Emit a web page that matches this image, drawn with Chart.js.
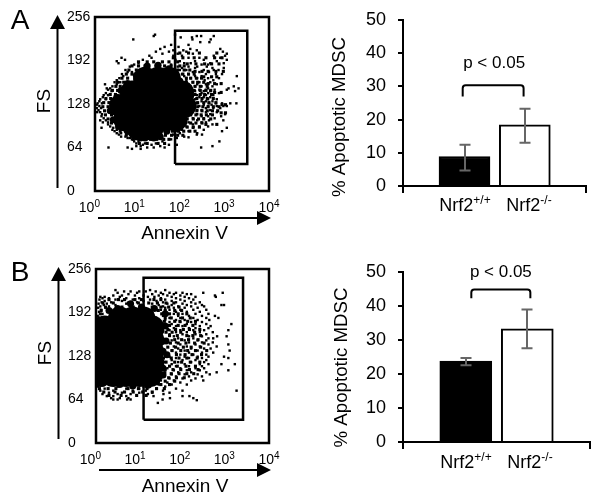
<!DOCTYPE html>
<html>
<head>
<meta charset="utf-8">
<style>
  html, body { margin: 0; background: #fff; }
  #page { position: relative; width: 602px; height: 504px; overflow: hidden; }
  canvas { position: absolute; }
</style>
<script src="https://cdn.jsdelivr.net/npm/chart.js@4"></script>
</head>
<body>
<div id="page">
  <canvas id="scatterA" width="300" height="252" style="left:0;top:0"></canvas>
  <canvas id="barA" width="292" height="252" style="left:310px;top:0"></canvas>
  <canvas id="scatterB" width="300" height="252" style="left:0;top:252px"></canvas>
  <canvas id="barB" width="292" height="252" style="left:310px;top:252px"></canvas>
</div>
<script>
// Scatter x values are log10(Annexin V), y is FS. Events:
// [FS, decade, decade, ...]. The solid middle of each cloud can't be resolved
// into single events, so it's estimated with blobs (core / mid) and clumps instead.
const xTickValues = [0, 1, 2, 3, 4];
const fsTicks = [0, 64, 128, 192, 256];

const gateXA = [1.84, 3.5];
const gateYA = [39.7, 235.8];
const gateXB = [1.1, 3.4];
const gateYB = [34.3, 243];

const coreA = [[1.15,165],[1.45,165],[1.7,165],
  [.85,145],[1.15,145],[1.45,145],[1.75,145],[2,145],
  [.6,125],[.9,125],[1.2,125],[1.5,125],[1.8,125],[2.05,125],
  [.7,105],[1,105],[1.3,105],[1.6,105],[1.85,105],[1,92],[1.3,92]];
const midA = [[.42,130],[.35,118],[.42,105],[.55,95],[.75,88],[.9,85],[1.5,80],[1.65,88],[1.9,92],[2,105],
  [2.15,120],[2.25,128],[2.2,140],[2.1,152],[1.95,162],[1.85,172],[1.7,180],[1.45,185],[1.2,184],[.95,170],
  [.75,158],[.6,148],[.5,138],[1.15,78],[1.35,78],[1.05,78]];
const clumpsA = [
  [203,1.95,2.15,2.4,2.8],[196,1.8,2.02,2.28,2.55,2.75,2.92],[190,1,1.2,1.35,1.55,1.7,1.9],[187,2.12,2.32,2.52,2.68,2.85],
  [184,.85,1,1.15,1.4,1.6,1.75,1.95,2.05],[178,.78,.95,1.9,2.05,2.18],[176,2.3,2.46,2.6,2.78,2.95],[172,.72,.85,2.02,2.15,2.28],
  [168,2.5,2.68,2.8],[166,.62,.75,2.1,2.2,2.33,2.45],[160,.52,.66,2.1,2.25,2.36,2.5],[158,2.6,2.75,2.9],[154,.48,.58,2.18,2.3,2.42,2.58],
  [148,.4,.52,2.15,2.28,2.42,2.55,2.66],[145,2.75,2.9],[142,.35,.47,2.3,2.42,2.52,2.68],[136,.25,.36,2.34,2.46,2.58,2.72],[130,.2,.32,2.36,2.5,2.62,2.78],
  [127,2.92,3],[124,.18,.3,2.36,2.48,2.6,2.72,2.85],[118,.22,.35,2.34,2.46,2.58,2.7,2.82],[115,2.9,3],[112,.24,.38,2.2,2.32,2.44,2.56,2.7],
  [106,.3,.42,2.12,2.26,2.38,2.5,2.66],[100,.38,.5,2.08,2.2,2.32,2.46],[98,2.55,2.8],[94,.5,.62,1.98,2.12,2.26,2.4],[88,.58,.7,1.78,1.92,2.04,2.18,2.3],
  [82,.72,.85,.98,1.5,1.62,1.76,1.9,2.02],[76,.88,1.02,1.15,1.28,1.42,1.58,1.7],[70,1.02,1.2,1.45,1.6]
];
const rowsA = [
  [230,1.38,1.84],[228,1.35,2.34,2.44,2.73],[226,1.97,2.23],[223,.88,2.24,2.66],[219,2.63,2.42],[215,2.15,1.75],
  [212,1.6,1.92],[209,2.19,2.88,1.5],[207,2.34,1.8,2.03],[205,1.4,2.94,1.7,2.1],[202,1.55,1.9,2.25,3.03],
  [199,1.25,2,2.73,2.99,1.8],[196,.61,1.3,2.88,2.15,2.4],[193,.69,1.1,3.03,1.85,2.5],[191,2.8,1.95,2.3,.5],
  [188,.54,1,2.65,2.96,2.05,2.2],[186,.9,1.75,2.45,2.6],[183,.8,1.9,2.57,2.15,2.35],[181,2.96,2,2.3,2.7],
  [178,.7,2.73,2.84,2.1,2.5,1.95],[175,.85,.75,2.25,2.4,2.62],[172,.62,2.92,2,2.15,2.55,2.78],[169,.65,3.26,2.3,2.45,2.05],
  [166,.56,2.2,2.35,2.6,2.85],[163,.5,2.1,2.52,2.72],[160,.58,.45,2.25,2.4,2.65],[157,.23,.5,2.15,2.35,2.55,2.8],
  [154,.4,2.3,2.45,2.7,3.19],[151,.27,.35,3.07,3.3,2.2,2.6],[149,.3,3.03,2.4,2.55,2.75],[147,.38,2.3,3.22,2.65,2.5],
  [144,.25,2.45,2.6,2.85],[141,.3,.2,2.35,2.55,2.72],[138,.18,2.5,2.65,2.4],[135,.25,.12,2.3,2.6,2.8],[132,.1,2.45,2.7,2.55],
  [129,.06,.16,2.35,2.92,3.11,3.25,2.62,2.78],[127,.04,2.5,2.68],[125,.1,2.4,2.8,3.03,2.95,2.6],[122,.04,.14,2.3,2.55,2.72,2.88],
  [119,.08,2.45,2.65,2.35],[116,.12,.05,2.2,2.55,2.8],[113,.16,2.35,2.99,2.65],[110,.15,2.1,2.45,2.6,2.9],[107,.2,2.25,2.5,2.75],
  [104,.12,.25,2.05,2.35,2.62,2.95],[101,.18,.3,2.15,2.45,2.55],[98,.3,2,2.25,2.7],[95,.35,2.1,2.4,2.6],[93,.15,.42,1.92,2.25,3.03],
  [90,.4,.5,2,2.5],[88,.45,2.92,2.15,1.85],[85,.5,.6,1.95,2.35],[83,.55,2.34,2.46,1.8],[80,.7,.6,2.05],[79,2.15],[78,.75,.8,1.88],
  [76,.85,1.75],[73,.9,1,2.86,1.55],[70,.95,1.15,1.4],[68,1.1,1.3,1.88,1.7],[66,.95,1.5,2.7,1.05],[64,.31,.75,1.2,1.6,2.44,1.35],[62,.85,1.05]
];

const coreB = [[.55,183],[.85,183],[1.1,183],
  [.2,170],[.5,170],[.8,170],[1.1,170],[1.3,170],
  [.1,152],[.4,152],[.7,152],[1,152],[1.3,152],
  [.1,134],[.4,134],[.7,134],[1,134],[1.3,134],
  [.1,116],[.4,116],[.7,116],[1,116],[1.3,116],
  [.1,100],[.4,100],[.7,100],[1,100],[1.25,100]];
const midB = [[1.6,190],[1.6,172],[1.62,150],[1.64,130],[1.55,110],[1.55,100],[1.4,90],[1.2,85],[1.55,150],[1.55,135],[1.5,120],[1.5,165],
  [1.05,200],[.8,205],[.5,198],[.3,195],[1.35,198],[.15,88],[.55,86],[.85,84]];
const clumpsB = [
  [211,.3,.52,.66,.9,1.05,1.34,1.5],[206,.16,.4,.75,.98,1.22,1.42,1.62,1.8],[200,.22,.6,.86,1.3,1.5,1.68,1.92],[195,.12,.34,1.28,1.44,1.6,1.82,1.98],
  [190,.1,1.3,1.52,1.7,1.9,2.1],[184,.06,1.38,1.6,1.74,2,2.18],[179,1.42,1.58,1.82,1.94,2.12,2.3],[173,1.56,1.7,1.9,2.06,2.24],
  [167,1.48,1.66,1.84,2.02,2.16,2.4],[163,1.62,1.76,1.96,2.28],[158,1.5,1.7,1.88,2.1,2.24,2.42],[152,1.6,1.82,1.98,2.14,2.36],
  [147,1.54,1.72,1.9,2.08,2.28,2.5],[141,1.66,1.84,2.02,2.2,2.42],[136,1.56,1.76,1.96,2.12,2.3,2.56],[130,1.64,1.86,2.06,2.22,2.44],
  [125,1.56,1.74,1.92,2.1,2.34],[119,1.62,1.82,1.98,2.18,2.4],[113,1.5,1.7,1.88,2.08,2.3],[108,1.6,1.78,1.96,2.16,2.36],
  [102,1.42,1.58,1.74,1.92,2.1,2.26],[96,1.34,1.5,1.68,1.86,2.04],[91,.04,.26,.5,.7,.96,1.14,1.36,1.6,1.82],[86,.14,.38,.62,.84,1.04,1.26,1.5,1.7],
  [80,.08,.28,.46,.74,.98,1.18,1.4,1.58],[75,.18,.44,.66,.86,1.08,1.3],[70,.3,.58,.94,1.16]
];
const rowsB = [
  [225,.45,1.25,1.6],[223,.65,.8,1,1.15,1.38],[221,.5,.95,1.5,1.7,1.85,2,2.48,2.93],[219,.75,1.3,1.55,1.8,2.1,2.2],
  [217,.4,.6,.9,1.1,1.45,1.65,1.95,2.75],[215,.1,.2,.55,1.2,1.35,1.75,2.05,2.3,2.77],[213,.15,.3,.7,1,1.5,1.85,2.15],
  [211,.08,.45,.85,1.25,1.6,1.95,2.25],[209,.2,.6,1.1,1.4,1.75,2.05],[207,.13,.35,.95,1.55,1.85,2.2,2.4],[205,.06,.25,.7,1.3,1.65,2,2.3],
  [203,.18,.45,1.45,1.75,2.1,2.45,2.9,2.96],[201,.1,.3,1.55,1.9,2.2,2.5],[199,.05,.22,1.6,1.8,2.05,2.35],[196,.12,.3,1.5,1.7,1.95,2.25,2.55],
  [193,.07,1.6,1.85,2.1,2.4],[190,.15,1.65,1.8,2,2.3,2.6],[187,.04,1.55,1.9,2.15,2.45,2.75],[184,1.7,1.95,2.25,2.55,2.83],
  [181,1.6,1.85,2.05,2.35,2.62],[178,1.7,1.95,2.2,2.45],[175,1.75,2.1,2.3,2.55,3.13],[172,1.65,1.85,2,2.4,2.65],[169,1.8,2.15,2.3,2.6],
  [166,1.7,1.95,2.25,2.5,3.06],[163,1.85,2.1,2.4,2.7],[160,1.7,2,2.3,2.55],[157,1.8,2.15,2.45,3.02,2.8],[154,1.9,2.25,2.6,2.71],
  [151,1.75,2.05,2.35,2.55],[148,1.85,2.15,2.45,2.7],[145,1.95,2.3,2.6,3.06],[142,1.8,2.1,2.4,2.79],[139,1.9,2.2,2.5,2.65],
  [136,1.75,2.05,2.35,3.09],[133,1.85,2.15,2.45,2.71],[130,1.95,2.25,2.55],[127,1.7,2.05,2.35,2.96,2.6],[125,1.85,2.15,2.45,3.06],
  [122,1.75,2,2.3,2.55],[119,1.6,1.9,2.2,2.5],[116,1.75,2.05,2.4,2.6,2.9,3.21],[113,1.55,1.85,2.15,2.45],[110,1.65,1.95,2.3,2.5],
  [107,1.5,1.8,2.1,2.4,3.06],[104,1.6,1.9,2.2,2.55,2.79],[101,1.45,1.75,2.05,2.35,2.63],[98,1.55,1.85,2.15,2.45],[95,1.4,1.7,2,2.3],
  [92,1.5,1.8,2.48,2.2],[89,.1,.6,1.35,1.65,1.95],[86,.3,.9,1.45,1.75,2.1],[83,.05,.5,1.1,1.25,1.6],[80,.2,.7,1,1.4,1.85],
  [77,.1,.4,.85,1.15,1.55,2,3.25],[74,.3,.6,1,1.3,1.7],[72,.15,.5,.8,1.2,1.56],[69,.25,.4,.7,1.33,2,2.16],[66,.35,.55,.75,1.71,2.25],
  [64,.4,.5,.72,.8,1.54],[63,2.33],[59,1.43]
];

// Bar panels
const genotypes = [["Nrf2", "+/+"], ["Nrf2", "-/-"]];
const barSlots = [1, 2];
const apoptoticA = [8.9, 18.4];
const errLowA = [4.7, 13];
const errHighA = [12.4, 23.3];
const apoptoticB = [23.8, 33.3];
const errLowB = [22.6, 27.6];
const errHighB = [24.7, 39];
const bracketA = { from: 0.97, to: 1.98, top: 30.4, foot: 27 };
const bracketB = { from: 1.09, to: 2.05, top: 44.9, foot: 42.3 };

const FONT = "'Liberation Sans', Arial, sans-serif";
Chart.defaults.font.family = FONT;
Chart.defaults.color = "#000";
Chart.defaults.animation = false;
Chart.defaults.plugins.legend.display = false;
Chart.defaults.plugins.tooltip.enabled = false;

function rowsToPoints(rows) {
  return rows.flatMap(([fs, ...xs]) => xs.map((x) => ({ x, y: fs })));
}
function pairsToPoints(pairs) {
  return pairs.map(([x, y]) => ({ x, y }));
}

function text(ctx, str, x, y, size, rotate) {
  ctx.save();
  ctx.translate(x, y);
  if (rotate) ctx.rotate(-Math.PI / 2);
  ctx.font = `${size}px ${FONT}`;
  ctx.fillStyle = "#000";
  ctx.textAlign = "center";
  ctx.textBaseline = "middle";
  ctx.fillText(str, 0, 0);
  ctx.restore();
}

// base text with a raised small part, centred on x
function supText(ctx, base, sup, x, baseline, size, supSize, rise) {
  ctx.save();
  ctx.fillStyle = "#000";
  ctx.textAlign = "left";
  ctx.textBaseline = "alphabetic";
  ctx.font = `${size}px ${FONT}`;
  const w1 = ctx.measureText(base).width;
  ctx.font = `${supSize}px ${FONT}`;
  const w2 = ctx.measureText(sup).width;
  const left = x - (w1 + w2) / 2;
  ctx.font = `${size}px ${FONT}`;
  ctx.fillText(base, left, baseline);
  ctx.font = `${supSize}px ${FONT}`;
  ctx.fillText(sup, left + w1, baseline - rise);
  ctx.restore();
}

function arrow(ctx, x1, y1, x2, y2, headLen, headW) {
  const a = Math.atan2(y2 - y1, x2 - x1);
  ctx.save();
  ctx.translate(x1, y1);
  ctx.rotate(a);
  const len = Math.hypot(x2 - x1, y2 - y1);
  ctx.fillStyle = "#000";
  ctx.fillRect(0, -1, len - headLen + 1, 2);
  ctx.beginPath();
  ctx.moveTo(len, 0);
  ctx.lineTo(len - headLen, -headW / 2);
  ctx.lineTo(len - headLen, headW / 2);
  ctx.closePath();
  ctx.fill();
  ctx.restore();
}

function scatterChart(id, cfg) {
  const gateLine = [
    { x: cfg.gateX[0], y: cfg.gateY[0] }, { x: cfg.gateX[1], y: cfg.gateY[0] },
    { x: cfg.gateX[1], y: cfg.gateY[1] }, { x: cfg.gateX[0], y: cfg.gateY[1] },
    { x: cfg.gateX[0], y: cfg.gateY[0] },
  ];
  return new Chart(document.getElementById(id), {
    type: "scatter",
    data: {
      datasets: [
        { data: gateLine, showLine: true, borderColor: "#000", borderWidth: 2.5, pointRadius: 0, borderJoinStyle: "miter" },
        { data: rowsToPoints(cfg.rows), backgroundColor: "#000", borderWidth: 0, pointStyle: "rect", pointRadius: 1.7 },
        { data: rowsToPoints(cfg.clumps), backgroundColor: "#000", borderWidth: 0, pointStyle: "rect", pointRadius: 2.2 },
        { data: pairsToPoints(cfg.mid), backgroundColor: "#000", borderWidth: 0, pointRadius: 3.5 },
        { data: pairsToPoints(cfg.core), backgroundColor: "#000", borderWidth: 0, pointRadius: 12 },
      ],
    },
    options: {
      responsive: false,
      layout: { autoPadding: false, padding: { left: cfg.left, top: 17, right: 31, bottom: 0 } },
      scales: {
        x: {
          type: "linear", min: 0, max: 4,
          grid: { display: false }, border: { display: false }, ticks: { display: false },
          afterFit: (s) => { s.height = 61; },
        },
        y: {
          type: "linear", min: 0, max: 256,
          grid: { display: false }, border: { display: false },
          afterBuildTicks: (s) => { s.ticks = fsTicks.map((value) => ({ value })); },
          ticks: { crossAlign: "far", padding: 0, font: { size: 14 }, autoSkip: false },
          afterFit: (s) => { s.width = 28; },
        },
      },
    },
    plugins: [{
      id: "flowDecor",
      afterDraw(chart) {
        const { ctx, chartArea: a, scales } = chart;
        ctx.save();
        ctx.strokeStyle = "#000";
        ctx.lineWidth = 2.5;
        ctx.strokeRect(a.left, a.top, a.right - a.left, a.bottom - a.top);
        ctx.restore();
        xTickValues.forEach((v) => {
          supText(ctx, "10", String(v), scales.x.getPixelForValue(v) - (4 - v) * 1.4, a.bottom + 21, 14, 10, 5);
        });
        cfg.extras(ctx);
      },
    }],
  });
}

function barChart(id, cfg) {
  return new Chart(document.getElementById(id), {
    type: "bar",
    data: {
      datasets: [{
        data: barSlots.map((x, i) => ({ x, y: cfg.values[i] })),
        backgroundColor: ["#000", "#fff"],
        borderColor: "#000",
        borderWidth: 2,
        barThickness: cfg.barW,
      }],
    },
    options: {
      responsive: false,
      layout: { autoPadding: false, padding: { left: 0, top: 17, right: cfg.right, bottom: 0 } },
      scales: {
        x: {
          type: "linear", min: cfg.xMin, max: cfg.xMax, offset: false,
          afterBuildTicks: (s) => { s.ticks = [{ value: s.min }, { value: s.max }]; },
          ticks: { display: false },
          grid: { offset: false, drawOnChartArea: false, tickLength: 7, color: "#000", lineWidth: 2 },
          border: { color: "#000", width: 2 },
          afterFit: (s) => { s.height = cfg.xH; },
        },
        y: {
          type: "linear", min: 0, max: 50,
          // tight line height so the top label doesn't push the plot area down
          ticks: { stepSize: 10, padding: 12, font: { size: 18, lineHeight: 0.9 } },
          grid: { drawOnChartArea: false, tickLength: 5, color: "#000", lineWidth: 2 },
          border: { color: "#000", width: 2 },
          afterFit: (s) => { s.width = 93; },
        },
      },
    },
    plugins: [{
      id: "barDecor",
      afterDraw(chart) {
        const { ctx, scales: { x, y }, chartArea: a } = chart;
        ctx.save();
        // error bars
        ctx.strokeStyle = "#666";
        ctx.lineWidth = 2;
        barSlots.forEach((slot, i) => {
          const px = Math.round(x.getPixelForValue(slot));
          const lo = y.getPixelForValue(cfg.low[i]);
          const hi = y.getPixelForValue(cfg.high[i]);
          ctx.beginPath();
          ctx.moveTo(px, lo); ctx.lineTo(px, hi);
          ctx.moveTo(px - 5.5, lo); ctx.lineTo(px + 5.5, lo);
          ctx.moveTo(px - 5.5, hi); ctx.lineTo(px + 5.5, hi);
          ctx.stroke();
        });
        // significance bracket
        const b = cfg.bracket;
        const bx1 = x.getPixelForValue(b.from), bx2 = x.getPixelForValue(b.to);
        const by = y.getPixelForValue(b.top), fy = y.getPixelForValue(b.foot);
        ctx.strokeStyle = "#000";
        ctx.beginPath();
        ctx.moveTo(bx1, fy);
        ctx.arcTo(bx1, by, bx2, by, 3);
        ctx.arcTo(bx2, by, bx2, fy, 3);
        ctx.lineTo(bx2, fy);
        ctx.stroke();
        ctx.restore();
        text(ctx, "p < 0.05", (bx1 + bx2) / 2 + cfg.pShift, y.getPixelForValue(cfg.pY), 17);
        genotypes.forEach(([base, sup], i) => {
          supText(ctx, base, sup, cfg.labelX[i], a.bottom + cfg.labelDrop, 18, 12, 7);
        });
        text(ctx, "% Apoptotic MDSC", cfg.titleX, cfg.titleY, 18.7, true);
      },
    }],
  });
}

scatterChart("scatterA", {
  left: 67, gateX: gateXA, gateY: gateYA, rows: rowsA, clumps: clumpsA, mid: midA, core: coreA,
  extras(ctx) {
    text(ctx, "A", 20, 21, 28);
    text(ctx, "FS", 45, 101, 19, true);
    text(ctx, "Annexin V", 184.5, 234, 19);
    arrow(ctx, 57.5, 188, 57.5, 15, 14, 15);
    arrow(ctx, 98, 218, 271, 218, 14, 14);
  },
});

scatterChart("scatterB", {
  left: 68, gateX: gateXB, gateY: gateYB, rows: rowsB, clumps: clumpsB, mid: midB, core: coreB,
  extras(ctx) {
    text(ctx, "B", 20, 21, 28);
    text(ctx, "FS", 45.5, 101, 19, true);
    text(ctx, "Annexin V", 185, 235, 19);
    arrow(ctx, 58.5, 187, 58.5, 15, 14, 15);
    arrow(ctx, 99, 218, 271, 218, 14, 14);
  },
});

barChart("barA", {
  values: apoptoticA, low: errLowA, high: errHighA, bracket: bracketA,
  barW: 51, right: 16, xMin: -0.02, xMax: 3.015, xH: 66,
  pShift: 1, pY: 36.9, labelX: [155, 219], labelDrop: 25, titleX: 30, titleY: 117,
});

barChart("barB", {
  values: apoptoticB, low: errLowB, high: errHighB, bracket: bracketB,
  barW: 52, right: 12, xMin: -0.021, xMax: 3.02, xH: 62,
  pShift: 0, pY: 50, labelX: [156, 220], labelDrop: 26, titleX: 32, titleY: 115.5,
});
</script>
</body>
</html>
